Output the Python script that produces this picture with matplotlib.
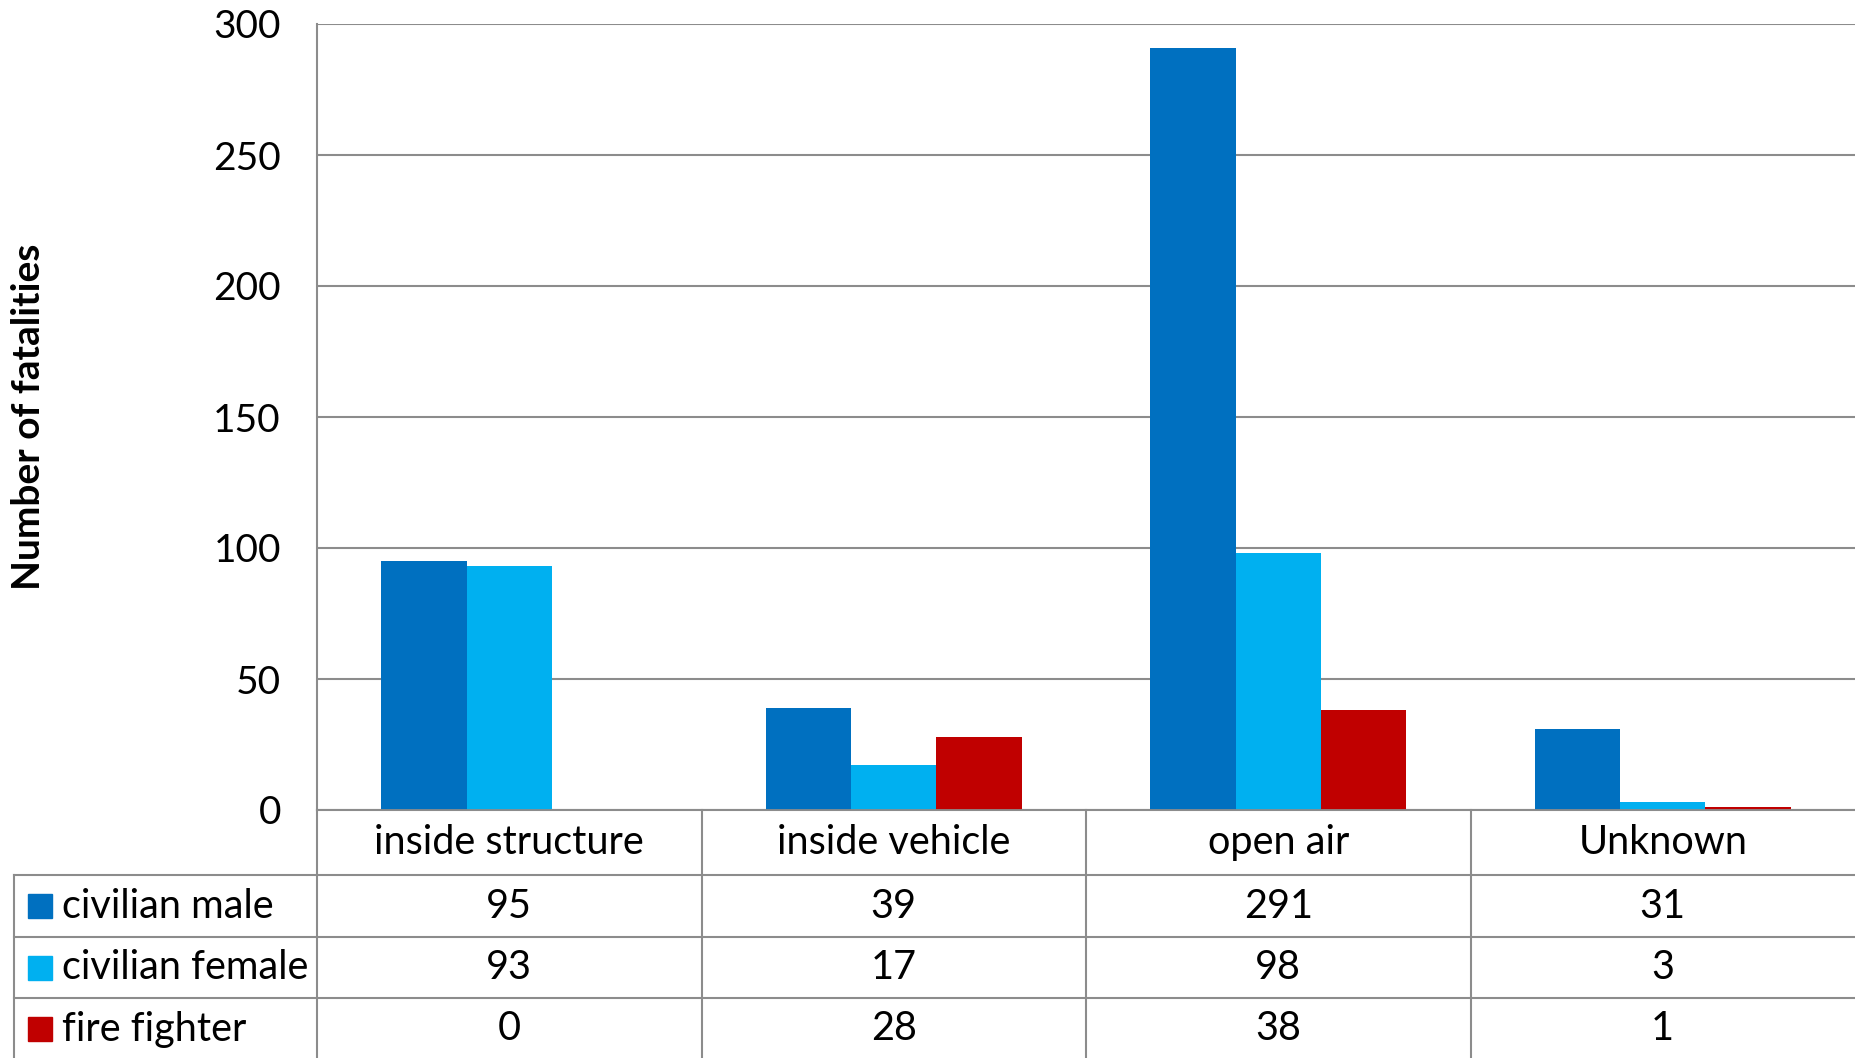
import matplotlib.pyplot as plt
from matplotlib.patches import Rectangle
from matplotlib.transforms import blended_transform_factory
import numpy as np

plt.rcParams["font.family"] = ["Lato", "DejaVu Sans"]

categories = ["inside structure", "inside vehicle", "open air", "Unknown"]
series_names = ["civilian male", "civilian female", "fire fighter"]
civilian_male = [95, 39, 291, 31]
civilian_female = [93, 17, 98, 3]
fire_fighter = [0, 28, 38, 1]
yticks = [0, 50, 100, 150, 200, 250, 300]

values = [civilian_male, civilian_female, fire_fighter]
colors = ["#0070C0", "#00B0F0", "#C00000"]
line_color = "#8c8c8c"

W, H = 1855, 1058
fig = plt.figure(figsize=(W / 100, H / 100), dpi=100)

left, right, top, bottom = 317, 1855, 24, 810
ax = fig.add_axes([left / W, (H - bottom) / H, (right - left) / W, (bottom - top) / H])

x = np.arange(len(categories))
bw = 1 / 4.5
for k, vals in enumerate(values):
    ax.bar(x + (k - 1) * bw, vals, width=bw, color=colors[k], zorder=3)

ax.set_xlim(-0.5, len(categories) - 0.5)
ax.set_ylim(0, 300)
ax.set_yticks(yticks)
ax.set_xticks([])
ax.tick_params(axis="y", length=0, pad=26, labelsize=28)
ax.yaxis.grid(True, color=line_color, linewidth=1.5, zorder=0)
for s in ["top", "right", "bottom"]:
    ax.spines[s].set_visible(False)
ax.spines["left"].set_color(line_color)
ax.spines["left"].set_linewidth(1.5)
ax.axhline(0, color=line_color, linewidth=2, zorder=4)

ax.set_ylabel("Number of fatalities", fontsize=28, fontweight="bold")
ax.yaxis.set_label_coords(-0.176, 0.5)

# data table under the chart
ah = bottom - top
row_edges = [0, -(875 - bottom) / ah, -(937 - bottom) / ah, -(998 - bottom) / ah, -(1060 - bottom) / ah]
tr = blended_transform_factory(ax.transData, ax.transAxes)
table_left = -0.5 - (left - 14) / ((right - left) / len(categories))
lw = 1.5

# horizontal lines
ax.plot([-0.5, 3.5], [row_edges[0]] * 2, transform=tr, color=line_color, lw=lw, clip_on=False)
for r in row_edges[1:4]:
    ax.plot([table_left, 3.5], [r, r], transform=tr, color=line_color, lw=lw, clip_on=False)
# vertical lines
for xv in np.arange(-0.5, 3.0, 1.0):
    ax.plot([xv, xv], [row_edges[0], row_edges[-1]], transform=tr, color=line_color, lw=lw, clip_on=False)
ax.plot([table_left, table_left], [row_edges[1], row_edges[-1]], transform=tr, color=line_color, lw=lw, clip_on=False)

fs = 28.5
for i, cat in enumerate(categories):
    ax.text(i, (row_edges[0] + row_edges[1]) / 2, cat, transform=tr, ha="center", va="center", fontsize=fs)
    for k, vals in enumerate(values):
        yc = (row_edges[k + 1] + row_edges[k + 2]) / 2
        ax.text(i, yc, str(vals[i]), transform=tr, ha="center", va="center", fontsize=fs)

cat_px = (right - left) / len(categories)
for k, name in enumerate(series_names):
    yc = (row_edges[k + 1] + row_edges[k + 2]) / 2
    sq = 24 / ah
    x0 = -0.5 - (left - 28) / cat_px
    ax.add_patch(Rectangle((x0, yc - sq / 2), 24 / cat_px, sq, transform=tr,
                           color=colors[k], clip_on=False))
    ax.text(-0.5 - (left - 62) / cat_px, yc, name, transform=tr, ha="left", va="center", fontsize=fs)

fig.savefig("out.png", dpi=100)
